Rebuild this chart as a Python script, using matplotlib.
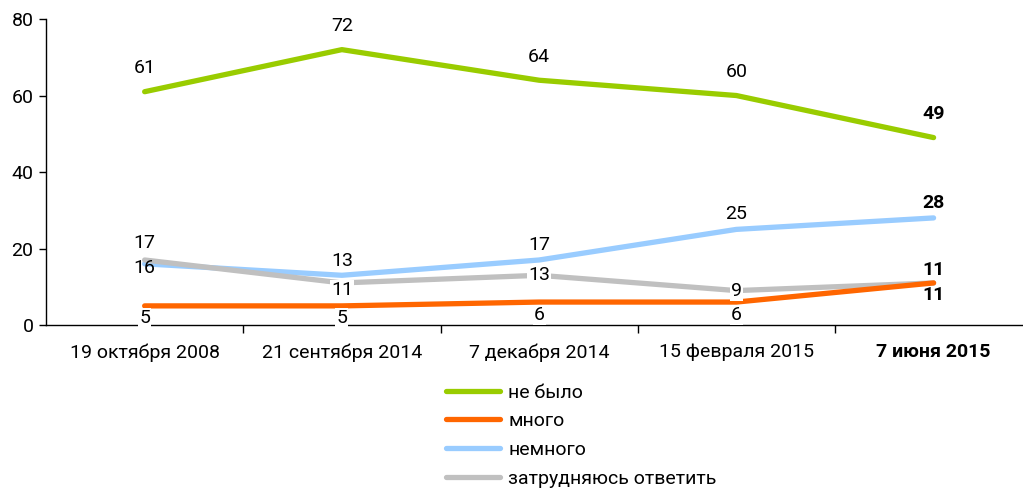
import matplotlib
matplotlib.use("Agg")
import matplotlib.pyplot as plt
import numpy as np

categories = ["19 октября 2008", "21 сентября 2014", "7 декабря 2014", "15 февраля 2015", "7 июня 2015"]
series_names = ["не было", "много", "немного", "затрудняюсь ответить"]
ne_bylo = [61, 72, 64, 60, 49]
mnogo = [5, 5, 6, 6, 11]
nemnogo = [16, 13, 17, 25, 28]
zatr = [17, 11, 13, 9, 11]
colors = ["#99CC00", "#FF6600", "#99CCFF", "#C0C0C0"]
yticks = [0, 20, 40, 60, 80]

plt.rcParams['font.family'] = ['Roboto', 'DejaVu Sans']
FS = 14

fig = plt.figure(figsize=(10.23, 4.88), dpi=100)
ax = fig.add_axes([0.045, 0.334, 0.964, 0.627])

x = np.arange(len(categories))
data = [ne_bylo, mnogo, nemnogo, zatr]
zorders = [3, 5, 3, 4]
for vals, name, c, z in zip(data, series_names, colors, zorders):
    ax.plot(x, vals, color=c, lw=3.8, label=name, zorder=z, solid_capstyle='round')

offsets = {
    0: [(0, 17)] * 5,
    1: [(0, -9)] * 5,
    2: [(0, -3), (0, 10), (0, 11), (0, 11), (0, 11)],
    3: [(0, 12), (0, -5), (0, 0), (0, 0), (0, 9)],
}
for si, vals in enumerate(data):
    for i, v in enumerate(vals):
        dx, dy = offsets[si][i]
        bold = (i == len(vals) - 1)
        bbox = None
        if si in (1, 3) and not bold:
            bbox = dict(boxstyle='square,pad=0.05', fc='white', ec='none')
        ax.annotate(str(v), (x[i], v), xytext=(dx, dy), textcoords='offset points',
                    ha='center', va='center', fontsize=FS,
                    fontweight='bold' if bold else 'normal', zorder=6, bbox=bbox)

ax.set_xlim(-0.5, len(categories) - 0.5)
ax.set_ylim(0, 80)
ax.set_yticks(yticks)
ax.set_xticks(x)
ax.set_xticklabels(categories, fontsize=FS)
ax.get_xticklabels()[-1].set_fontweight('bold')
ax.set_xticks(np.arange(0.5, len(categories) - 1, 1), minor=True)
ax.tick_params(axis='x', which='major', length=0, pad=13)
ax.tick_params(axis='x', which='minor', length=6, width=1, direction='out')
ax.tick_params(axis='y', labelsize=FS, length=5, width=1, pad=4)
for s in ['top', 'right']:
    ax.spines[s].set_visible(False)
for s in ['left', 'bottom']:
    ax.spines[s].set_linewidth(1)

leg = fig.legend(loc='upper left', bbox_to_anchor=(0.436, 0.214), frameon=False,
                 fontsize=FS, handlelength=2.75, labelspacing=0.55, handletextpad=0.45,
                 borderaxespad=0, borderpad=0)

fig.savefig("out.png", dpi=100)
